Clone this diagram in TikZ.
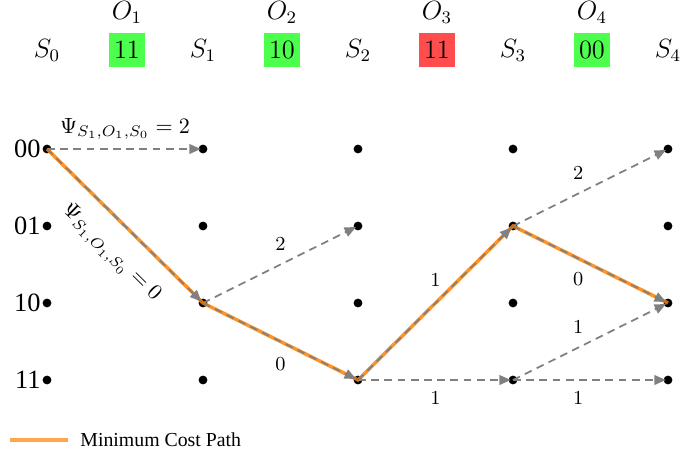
\documentclass[tikz,border=0pt]{standalone}
\usepackage[no-math]{fontspec}
\setmainfont{Liberation Serif}
\usetikzlibrary{arrows.meta}
\definecolor{boxgreen}{RGB}{77,255,77}
\definecolor{boxred}{RGB}{255,77,77}
\definecolor{pathorange}{RGB}{255,128,0}
\tikzset{
  dot/.style={circle,fill=black,inner sep=0pt,minimum size=4pt},
  rowlab/.style={anchor=east,font=\large,inner sep=0pt},
  toplab/.style={font=\large},
  obsbox/.style={inner sep=0pt,minimum width=16.4pt,minimum height=15.5pt,font=\large},
  edge/.style={draw=gray,dash pattern=on 3.5pt off 2.5pt,line width=0.8pt,-{Triangle[length=5.2pt,width=4.4pt]},shorten >=1pt},
  best/.style={draw=pathorange,opacity=0.85,line width=1.6pt},
  elab/.style={font=\small,inner sep=1pt},
  leg/.style={draw=pathorange,opacity=0.7,line width=1.6pt}
}
\begin{document}
\begin{tikzpicture}[x=0.4545pt,y=-0.4545pt]
\useasboundingbox (0,0) rectangle (688,456);
% top labels
\node[toplab] (o1) at (127,12) {$O_1$};
\node[toplab] (o2) at (282,12) {$O_2$};
\node[toplab] (o3) at (437,12) {$O_3$};
\node[toplab] (o4) at (592,12) {$O_4$};
\node[toplab] (s0) at (47,50) {$S_0$};
\node[toplab] (s1) at (203,50) {$S_1$};
\node[toplab] (s2) at (358,50) {$S_2$};
\node[toplab] (s3) at (513,50) {$S_3$};
\node[toplab] (s4) at (668,50) {$S_4$};
\node[obsbox,fill=boxgreen] (b1) at (127,50) {$11$};
\node[obsbox,fill=boxgreen] (b2) at (282,50) {$10$};
\node[obsbox,fill=boxred] (b3) at (437,50) {$11$};
\node[obsbox,fill=boxgreen] (b4) at (592,50) {$00$};
% row labels
\node[rowlab] (r00) at (41,149) {00};
\node[rowlab] (r01) at (41,226) {01};
\node[rowlab] (r10) at (41,303) {10};
\node[rowlab] (r11) at (41,380) {11};
% dots
\foreach \c/\x in {0/47,1/203,2/358,3/513,4/668}{
  \foreach \r/\y in {00/149,01/226,10/303,11/380}{
    \node[dot] (d\c-\r) at (\x,\y) {};
  }
}
% dashed transitions
\draw[edge] (d0-00.center) -- (d1-00.center) node[elab,midway,above=3pt,font=\normalsize] {$\Psi_{S_1,O_1,S_0}=2$};
\draw[edge] (d1-10.center) -- (d2-01.center) node[elab,midway,above=5pt] {$2$};
\draw[edge] (d2-11.center) -- (d3-11.center) node[elab,midway,below=4pt] {$1$};
\draw[edge] (d3-01.center) -- (d4-00.center) node[elab,pos=0.42,above=5pt] {$2$};
\draw[edge] (d3-11.center) -- (d4-10.center) node[elab,pos=0.42,above=5pt] {$1$};
\draw[edge] (d3-11.center) -- (d4-11.center) node[elab,pos=0.42,below=4pt] {$1$};
% minimum cost path
\draw[best] (d0-00.center) -- (d1-10.center) -- (d2-11.center) -- (d3-01.center) -- (d4-10.center);
\draw[edge] (d0-00.center) -- (d1-10.center) node[elab,pos=0.54,sloped,below=7pt,font=\normalsize] {$\Psi_{S_1,O_1,S_0}=0$};
\draw[edge] (d1-10.center) -- (d2-11.center) node[elab,midway,below=6pt] {$0$};
\draw[edge] (d2-11.center) -- (d3-01.center) node[elab,midway,above=6pt] {$1$};
\draw[edge] (d3-01.center) -- (d4-10.center) node[elab,pos=0.42,below=5pt] {$0$};
% legend
\coordinate (legA) at (10,440);
\coordinate (legB) at (68,440);
\draw[leg] (legA) -- (legB);
\node[anchor=west,inner sep=0pt,font=\small] (legt) at (80,440) {Minimum Cost Path};
\end{tikzpicture}
\end{document}
